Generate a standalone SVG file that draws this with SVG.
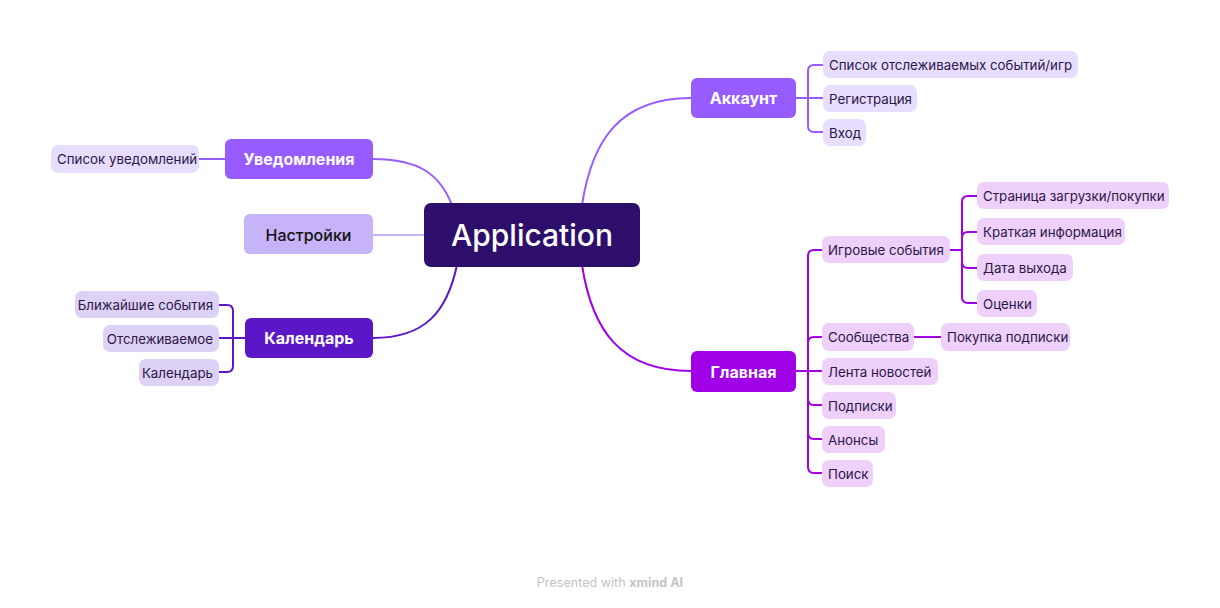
<svg xmlns="http://www.w3.org/2000/svg" width="1220" height="608" viewBox="0 0 1220 608">
<style>
.t{font-family:Inter,"Noto Sans",sans-serif;dominant-baseline:central}
.c{font-size:13.3px;fill:#2b1748}
.b{font-size:16px;font-weight:700;fill:#fff;text-anchor:middle}
.ln{fill:none;stroke-width:2}
.ca{fill:#e7ddff}
.cg{fill:#eed0fb}
.ck{fill:#ddd1f5}
</style>
<rect width="1220" height="608" fill="#fff"/>
<g id="connectors" class="ln">
<path d="M582 205 C592 140 620 98 691 98" stroke="#975cff"/>
<path d="M582 265 C592 330 620 371 691 371" stroke="#a000e6"/>
<path d="M373 159 C420 159 440 175 452 205" stroke="#975cff"/>
<path d="M373 235 H424" stroke="#c7b3fa"/>
<path d="M373 338 C425 338 447 312 457 265" stroke="#5b16c8"/>
<g stroke="#975cff">
<path d="M796 98 H808"/>
<path d="M808 98 V71 Q808 65 814 65 H823"/>
<path d="M808 98 H823"/>
<path d="M808 98 V126 Q808 132 814 132 H823"/>
</g>
<path d="M199 159 H225" stroke="#975cff"/>
<g stroke="#5b16c8">
<path d="M245 338 H233"/>
<path d="M233 338 V311 Q233 305 227 305 H219"/>
<path d="M233 338 H219"/>
<path d="M233 338 V366 Q233 372 227 372 H219"/>
</g>
<g stroke="#a000e6">
<path d="M796 371 H808"/>
<path d="M808 371 V256 Q808 250 814 250 H822"/>
<path d="M808 371 V343 Q808 337 814 337 H822"/>
<path d="M808 371 H822"/>
<path d="M808 371 V399 Q808 405 814 405 H822"/>
<path d="M808 371 V433 Q808 439 814 439 H822"/>
<path d="M808 371 V467 Q808 473 814 473 H822"/>
<path d="M914 337 H941"/>
<path d="M950 250 H962"/>
<path d="M962 250 V202 Q962 196 968 196 H977"/>
<path d="M962 250 V238 Q962 232 968 232 H977"/>
<path d="M962 250 V262 Q962 268 968 268 H977"/>
<path d="M962 250 V297 Q962 303 968 303 H977"/>
</g>
</g>
<g id="app"><rect x="424" y="203" width="216" height="64" rx="7" fill="#2e0e6b"/><text class="t" x="532" y="235" font-size="30" font-weight="500" fill="#fff" text-anchor="middle">Application</text></g>
<g id="akkaunt"><rect x="691" y="78" width="105" height="40" rx="6" fill="#975cff"/><text class="t b" x="743.5" y="98">Аккаунт</text></g>
<g id="a1"><rect class="ca" x="823" y="51" width="255" height="27" rx="7"/><text class="t c" x="829" y="65">Список отслеживаемых событий/игр</text></g>
<g id="a2"><rect class="ca" x="823" y="85" width="94" height="27" rx="7"/><text class="t c" x="829" y="99">Регистрация</text></g>
<g id="a3"><rect class="ca" x="823" y="119" width="43" height="27" rx="7"/><text class="t c" x="829" y="133">Вход</text></g>
<g id="uved"><rect x="225" y="139" width="148" height="40" rx="6" fill="#975cff"/><text class="t b" x="299" y="159">Уведомления</text></g>
<g id="u1"><rect class="ca" x="51" y="145" width="148" height="28" rx="7"/><text class="t c" x="57" y="159">Список уведомлений</text></g>
<g id="nastr"><rect x="244" y="214" width="129" height="40" rx="6" fill="#c7b3fa"/><text class="t" x="308.5" y="235" font-size="16" font-weight="500" fill="#111" text-anchor="middle">Настройки</text></g>
<g id="kal"><rect x="245" y="318" width="128" height="40" rx="6" fill="#5b16c8"/><text class="t b" x="309" y="338">Календарь</text></g>
<g id="k1"><rect class="ck" x="75" y="291" width="144" height="27" rx="7"/><text class="t c" x="213" y="305" text-anchor="end">Ближайшие события</text></g>
<g id="k2"><rect class="ck" x="103" y="325" width="116" height="27" rx="7"/><text class="t c" x="213" y="339" text-anchor="end">Отслеживаемое</text></g>
<g id="k3"><rect class="ck" x="139" y="359" width="80" height="27" rx="7"/><text class="t c" x="213" y="373" text-anchor="end">Календарь</text></g>
<g id="glav"><rect x="691" y="351" width="105" height="41" rx="6" fill="#a000e6"/><text class="t b" x="743.5" y="371.5">Главная</text></g>
<g id="g1"><rect class="cg" x="822" y="236" width="128" height="27" rx="7"/><text class="t c" x="828" y="250">Игровые события</text></g>
<g id="g11"><rect class="cg" x="977" y="182" width="192" height="27" rx="7"/><text class="t c" x="983" y="196">Страница загрузки/покупки</text></g>
<g id="g12"><rect class="cg" x="977" y="218" width="148" height="27" rx="7"/><text class="t c" x="983" y="232">Краткая информация</text></g>
<g id="g13"><rect class="cg" x="977" y="254" width="96" height="27" rx="7"/><text class="t c" x="983" y="268">Дата выхода</text></g>
<g id="g14"><rect class="cg" x="977" y="290" width="60" height="27" rx="7"/><text class="t c" x="983" y="304">Оценки</text></g>
<g id="g2"><rect class="cg" x="822" y="323" width="92" height="28" rx="7"/><text class="t c" x="828" y="337">Сообщества</text></g>
<g id="g21"><rect class="cg" x="941" y="323" width="129" height="28" rx="7"/><text class="t c" x="947" y="337">Покупка подписки</text></g>
<g id="g3"><rect class="cg" x="822" y="358" width="116" height="27" rx="7"/><text class="t c" x="828" y="372">Лента новостей</text></g>
<g id="g4"><rect class="cg" x="822" y="392" width="74" height="27" rx="7"/><text class="t c" x="828" y="406">Подписки</text></g>
<g id="g5"><rect class="cg" x="822" y="426" width="63" height="27" rx="7"/><text class="t c" x="828" y="440">Анонсы</text></g>
<g id="g6"><rect class="cg" x="822" y="460" width="51" height="27" rx="7"/><text class="t c" x="828" y="474">Поиск</text></g>
<text class="t" x="610" y="582" font-size="12.6" fill="#c4c4c4" text-anchor="middle">Presented with <tspan font-weight="700">xmind AI</tspan></text>
</svg>
